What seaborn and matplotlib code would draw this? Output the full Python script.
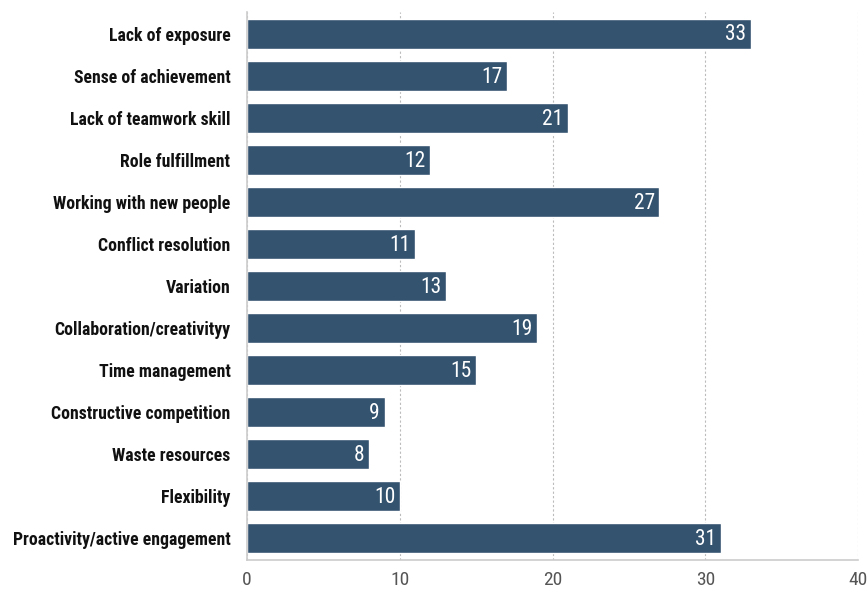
import matplotlib
matplotlib.use("Agg")
import matplotlib.pyplot as plt
import seaborn as sns
import pandas as pd

categories = ["Lack of exposure", "Sense of achievement", "Lack of teamwork skill",
              "Role fulfillment", "Working with new people", "Conflict resolution",
              "Variation", "Collaboration/creativityy", "Time management",
              "Constructive competition", "Waste resources", "Flexibility",
              "Proactivity/active engagement"]
values = [33, 17, 21, 12, 27, 11, 13, 19, 15, 9, 8, 10, 31]
x_ticks = [0, 10, 20, 30, 40]

sns.set_theme(style="white")
plt.rcParams['font.family'] = ['Roboto Condensed', 'Liberation Sans Narrow', 'Roboto', 'DejaVu Sans']

df = pd.DataFrame({"cat": categories, "val": values})
fig = plt.figure(figsize=(8.67, 5.92), dpi=100)
ax = fig.add_axes([0.285, 0.054, 0.7046, 0.926])
sns.barplot(data=df, x="val", y="cat", orient="h", color="#34536f", saturation=1,
            width=0.71, ax=ax, zorder=2)
ax.set_xlim(0, 40)
ax.set_ylim(12.52, -0.52)
ax.set_xticks(x_ticks)
ax.set_xticklabels([str(t) for t in x_ticks], fontsize=14, color="#555555")
ax.set_xlabel("")
ax.set_ylabel("")
ax.tick_params(axis="y", length=0, pad=12, labelsize=12.8)
ax.tick_params(axis="x", length=0, pad=8)
for lbl in ax.get_yticklabels():
    lbl.set_fontweight("bold")
    lbl.set_color("#111111")
ax.grid(axis="x", color="#bbbbbb", linestyle=(0, (2, 2)), linewidth=0.8, zorder=0)
ax.set_axisbelow(True)
for s in ["top", "right"]:
    ax.spines[s].set_visible(False)
for s in ["left", "bottom"]:
    ax.spines[s].set_color("#cccccc")
    ax.spines[s].set_linewidth(1.2)
for cont in ax.containers:
    for bar, v in zip(cont, values):
        ax.text(bar.get_width() - 0.3, bar.get_y() + bar.get_height() / 2 + 0.03, str(v),
                ha="right", va="center", color="white", fontsize=15.5, zorder=3)
fig.savefig("out.png", dpi=100)
